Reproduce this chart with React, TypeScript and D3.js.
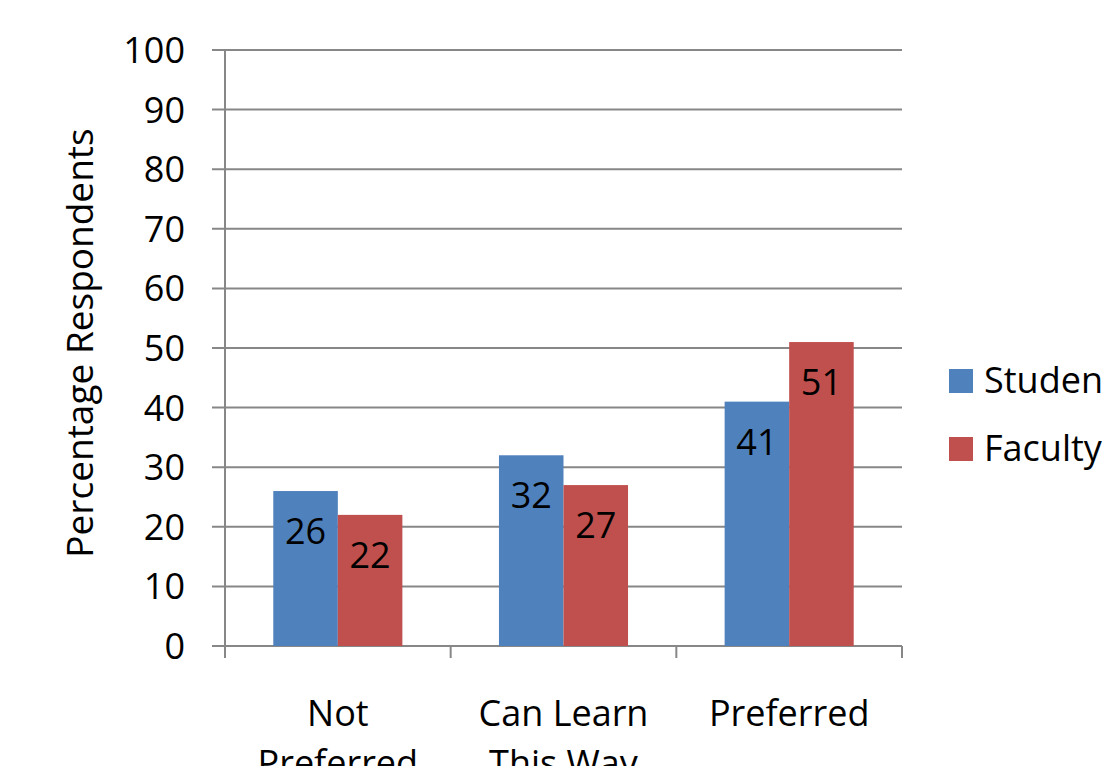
import React, { useEffect, useRef } from "react"
import * as d3 from "d3"

const categories = ["Not Preferred", "Can Learn This Way", "Preferred"]
const categoryLines = [["Not", "Preferred"], ["Can Learn", "This Way"], ["Preferred"]]
const seriesNames = ["Studen", "Faculty"]
const students = [26, 32, 41]
const faculty = [22, 27, 51]
const yTicks = [0, 10, 20, 30, 40, 50, 60, 70, 80, 90, 100]
const colors = ["#4F81BD", "#C0504D"]

const W = 1105
const H = 766
const FONT = "'Open Sans', sans-serif"

function App() {
    const ref = useRef<SVGSVGElement>(null)

    useEffect(() => {
        document.body.style.margin = "0"
        document.body.style.overflow = "hidden"
        const svg = d3.select(ref.current)
        svg.selectAll("*").remove()

        const left = 225
        const right = 902
        const top = 50
        const bottom = 646

        const x = d3.scaleBand().domain(categories).range([left, right]).padding(0)
        const y = d3.scaleLinear().domain([0, 100]).range([bottom, top])
        const groupW = x.bandwidth() * 0.572
        const inner = d3
            .scaleBand()
            .domain(seriesNames)
            .range([(x.bandwidth() - groupW) / 2, (x.bandwidth() + groupW) / 2])
            .padding(0)

        const grid = svg.append("g")
        grid.selectAll("line")
            .data(yTicks)
            .enter()
            .append("line")
            .attr("x1", left - 13)
            .attr("x2", right)
            .attr("y1", d => y(d))
            .attr("y2", d => y(d))
            .attr("stroke", "#878787")
            .attr("stroke-width", 2)

        svg.append("g")
            .selectAll("text")
            .data(yTicks)
            .enter()
            .append("text")
            .attr("x", 185)
            .attr("y", d => y(d))
            .attr("dy", "0.36em")
            .attr("text-anchor", "end")
            .attr("font-family", FONT)
            .attr("font-size", 36)
            .attr("fill", "#000")
            .text(d => d)

        const series = [students, faculty]
        series.forEach((vals, si) => {
            const g = svg.append("g")
            g.selectAll("rect")
                .data(vals)
                .enter()
                .append("rect")
                .attr("x", (d, i) => x(categories[i])! + inner(seriesNames[si])!)
                .attr("y", d => y(d))
                .attr("width", inner.bandwidth())
                .attr("height", d => bottom - y(d))
                .attr("fill", colors[si])
            g.selectAll("text")
                .data(vals)
                .enter()
                .append("text")
                .attr("x", (d, i) => x(categories[i])! + inner(seriesNames[si])! + inner.bandwidth() / 2)
                .attr("y", d => y(d) + 53)
                .attr("text-anchor", "middle")
                .attr("font-family", FONT)
                .attr("font-size", 36)
                .attr("fill", "#000")
                .text(d => d)
        })

        // axes lines
        svg.append("line")
            .attr("x1", left)
            .attr("x2", left)
            .attr("y1", top)
            .attr("y2", bottom)
            .attr("stroke", "#878787")
            .attr("stroke-width", 2)
        const xTicks = [left, ...categories.map(c => x(c)! + x.bandwidth())]
        svg.append("g")
            .selectAll("line")
            .data(xTicks)
            .enter()
            .append("line")
            .attr("x1", d => d)
            .attr("x2", d => d)
            .attr("y1", bottom)
            .attr("y2", bottom + 12)
            .attr("stroke", "#878787")
            .attr("stroke-width", 2)

        // category labels, second line runs off the bottom like the original
        const cat = svg.append("g")
        categoryLines.forEach((lines, i) => {
            const t = cat.append("text")
                .attr("text-anchor", "middle")
                .attr("font-family", FONT)
                .attr("font-size", 36)
                .attr("fill", "#000")
            lines.forEach((ln, k) => {
                t.append("tspan")
                    .attr("x", x(categories[i])! + x.bandwidth() / 2)
                    .attr("y", 726 + k * 50)
                    .text(ln)
            })
        })

        svg.append("text")
            .attr("transform", "translate(93,343) rotate(-90)")
            .attr("text-anchor", "middle")
            .attr("font-family", FONT)
            .attr("font-size", 37)
            .attr("fill", "#000")
            .text("Percentage Respondents")

        const legend = svg.append("g")
        seriesNames.forEach((name, i) => {
            const yy = 369 + i * 68
            legend.append("rect")
                .attr("x", 949)
                .attr("y", yy)
                .attr("width", 24)
                .attr("height", 24)
                .attr("fill", colors[i])
            legend.append("text")
                .attr("x", 984)
                .attr("y", yy + 24)
                .attr("font-family", FONT)
                .attr("font-size", 36)
                .attr("fill", "#000")
                .text(name)
        })
    }, [])

    return <svg ref={ref} width={W} height={H} style={{ display: "block", background: "#fff" }} />
}

export default App
